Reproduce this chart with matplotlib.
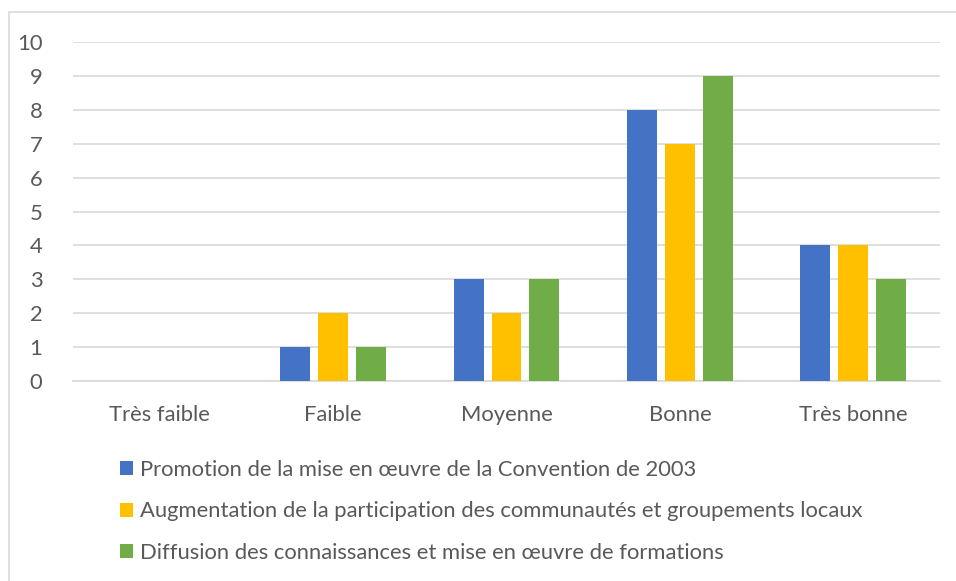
import numpy as np
import matplotlib
matplotlib.use('Agg')
import matplotlib.pyplot as plt
from matplotlib.patches import Rectangle

categories = ['Très faible', 'Faible', 'Moyenne', 'Bonne', 'Très bonne']
series_names = [
    'Promotion de la mise en œuvre de la Convention de 2003',
    'Augmentation de la participation des communautés et groupements locaux',
    'Diffusion des connaissances et mise en œuvre de formations',
]
promotion = [0, 1, 3, 8, 4]
participation = [0, 2, 2, 7, 4]
diffusion = [0, 1, 3, 9, 3]
colors = ['#4472C4', '#FFC000', '#70AD47']

plt.rcParams['font.family'] = ['Lato', 'DejaVu Sans']
txt_color = '#595959'
fs = 15.8

W, H = 956, 581
fig = plt.figure(figsize=(W / 100, H / 100), dpi=100)
ax = fig.add_axes([73 / W, 1 - 381 / H, (940 - 73) / W, (381 - 42) / H])

# chart area border (only left/top visible in the crop)
fig.patches.append(Rectangle((9 / W, -0.1), 1.2, 1.1 - 12 / H,
                             transform=fig.transFigure, fill=False,
                             edgecolor='#D9D9D9', lw=1.2))

x = np.arange(len(categories))
bw = 0.173
step = 0.219
bars = []
for i, (vals, c) in enumerate(zip([promotion, participation, diffusion], colors)):
    b = ax.bar(x + (i - 1) * step, vals, width=bw, color=c, zorder=3)
    bars.append(b)

ax.set_xlim(-0.5, len(categories) - 0.5)
ax.set_ylim(0, 10)
ax.set_yticks(range(0, 11))
ax.grid(axis='y', color='#D9D9D9', lw=1.2, zorder=0)
for s in ['top', 'right', 'left']:
    ax.spines[s].set_visible(False)
ax.spines['bottom'].set_color('#D9D9D9')
ax.spines['bottom'].set_linewidth(1.2)
ax.set_xticks(x)
ax.set_xticklabels(categories)
ax.tick_params(axis='both', length=0, labelsize=fs, colors=txt_color)
ax.tick_params(axis='x', pad=17)
ax.tick_params(axis='y', pad=22)

leg = fig.legend(bars, series_names, loc='upper left',
                 bbox_to_anchor=(109 / W, 1 - 449 / H), frameon=False,
                 fontsize=fs, handlelength=0.6, handleheight=0.6,
                 handletextpad=0.3, labelspacing=0.98, borderpad=0)
for t in leg.get_texts():
    t.set_color(txt_color)

fig.savefig('out.png', dpi=100)
